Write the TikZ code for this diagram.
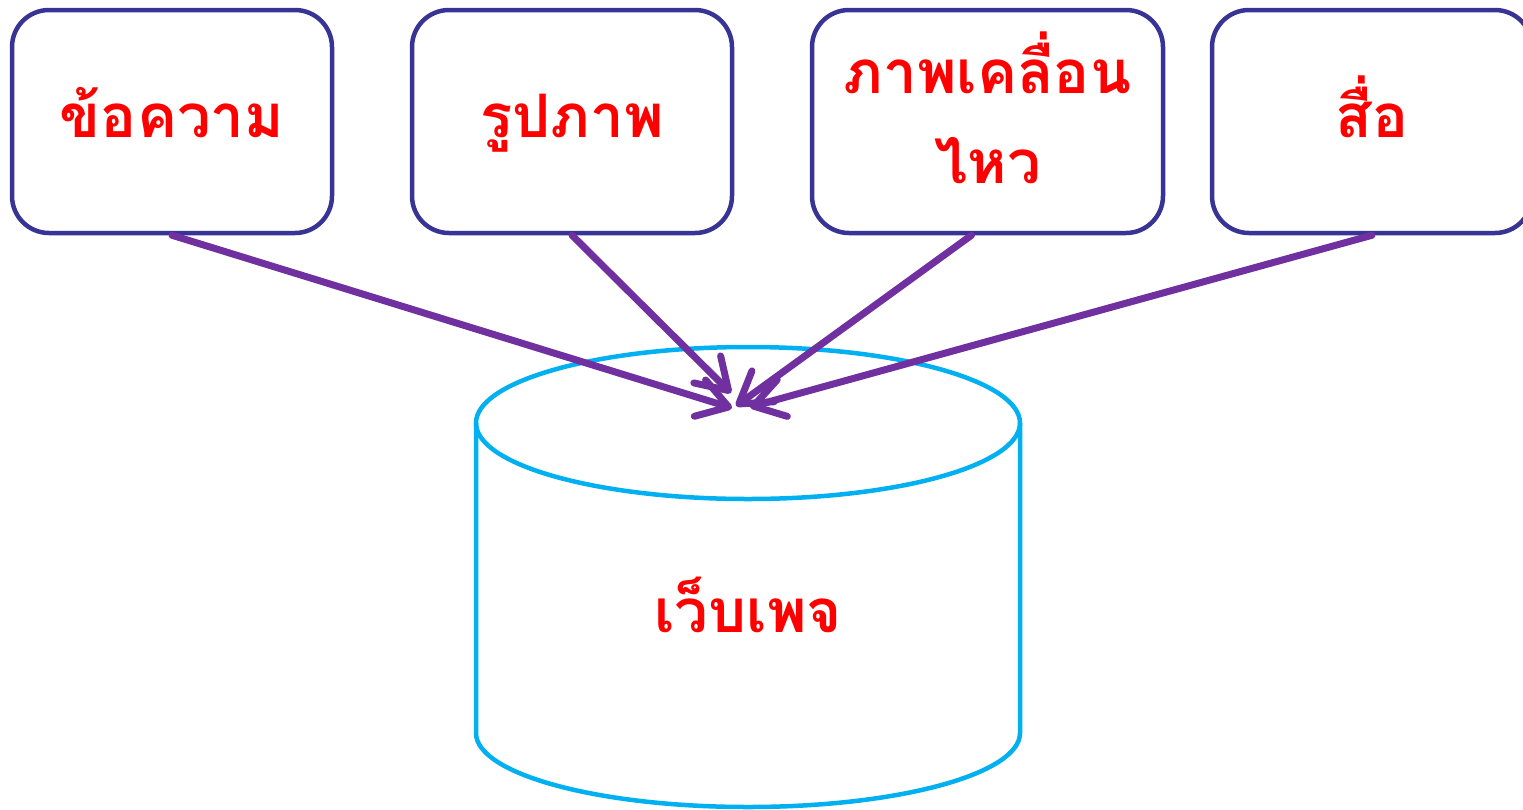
\documentclass[tikz,border=0pt]{standalone}
\usepackage{fontspec}
\newfontfamily\thaifont[Script=Thai]{Loma}
\usetikzlibrary{arrows.meta}
\definecolor{boxblue}{RGB}{55,52,150}
\definecolor{arrowpurple}{RGB}{112,48,160}
\definecolor{cylblue}{RGB}{0,176,240}
\definecolor{textred}{RGB}{255,0,0}
\tikzset{
  card/.style={draw=boxblue, line width=4.5pt, rounded corners=37pt, minimum height=223pt, inner sep=0pt, fill=white},
  label/.style={text=textred, font=\thaifont\bfseries\fontsize{60}{90}\selectfont, anchor=base, inner sep=0pt},
  feed/.style={draw=arrowpurple, line width=7pt, line cap=round, -{Straight Barb[length=30pt, width=38pt, line cap=round, round]}},
}
\begin{document}
\begin{tikzpicture}[x=1pt, y=-1pt]
\useasboundingbox (0,0) rectangle (1523,809);
% cylinder
\draw[cylblue, line width=4.5pt, fill=white]
  (476,423) -- (476,733) arc[start angle=180, end angle=0, x radius=272, y radius=74] -- (1020,423);
\draw[cylblue, line width=4.5pt] (748,423) ellipse[x radius=272, y radius=76];
\node[label] (web) at (748,632) {เว็บเพจ};
% boxes
\node[card, minimum width=320pt] (b1) at (172,121.5) {};
\node[card, minimum width=320pt] (b2) at (572,121.5) {};
\node[card, minimum width=351pt] (b3) at (987.5,121.5) {};
\node[card, minimum width=320pt] (b4) at (1372,121.5) {};
\node[label] (l1) at (172,137) {ข้อความ};
\node[label] (l2) at (572,137) {รูปภาพ};
\node[label] (l3a) at (987.5,93) {ภาพเคลื่อน};
\node[label] (l3b) at (987.5,183) {ไหว};
\node[label] (l4) at (1372,137) {สื่อ};
% targets
\coordinate (t1) at (732,408);
\coordinate (t2) at (731,393);
\coordinate (t3) at (736,406);
\coordinate (t4) at (750,407);
\draw[feed] (b1.south) -- (t1);
\draw[feed] (b2.south) -- (t2);
\draw[feed] ([xshift=-16pt]b3.south) -- (t3);
\draw[feed] (b4.south) -- (t4);
\end{tikzpicture}
\end{document}
